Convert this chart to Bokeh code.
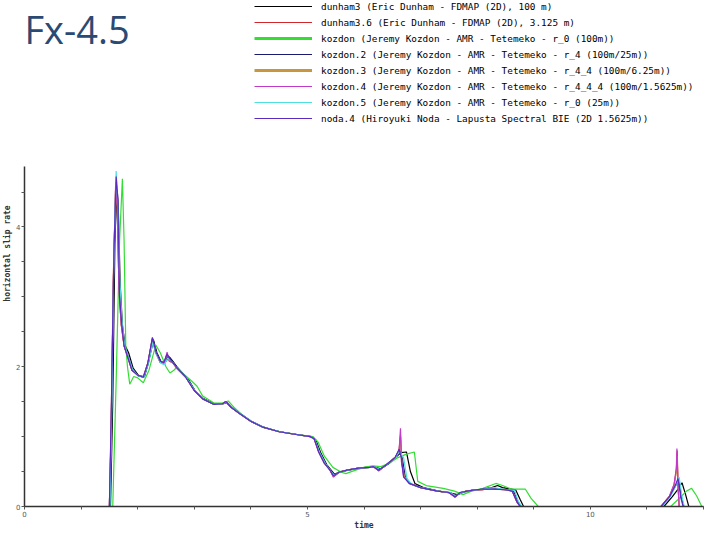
from bokeh.plotting import figure
from bokeh.models import Legend, LegendItem, Label, FixedTicker, ColumnDataSource, CDSView, IndexFilter
from bokeh.embed import file_html
from bokeh.resources import INLINE

# ---------------- data (time, horizontal slip rate) ----------------
labels = [
    "dunham3 (Eric Dunham - FDMAP (2D), 100 m)",
    "dunham3.6 (Eric Dunham - FDMAP (2D), 3.125 m)",
    "kozdon (Jeremy Kozdon - AMR - Tetemeko - r_0 (100m))",
    "kozdon.2 (Jeremy Kozdon - AMR - Tetemeko - r_4 (100m/25m))",
    "kozdon.3 (Jeremy Kozdon - AMR - Tetemeko - r_4_4 (100m/6.25m))",
    "kozdon.4 (Jeremy Kozdon - AMR - Tetemeko - r_4_4_4 (100m/1.5625m))",
    "kozdon.5 (Jeremy Kozdon - AMR - Tetemeko - r_0 (25m))",
    "noda.4 (Hiroyuki Noda - Lapusta Spectral BIE (2D 1.5625m))",
]
colors = ["#000000", "#d02828", "#33dd33", "#1a1a70", "#c8963c", "#c03cc8", "#4ee0e0", "#5b2bc0"]
legend_widths = [1, 1, 3, 1, 3, 1, 1, 1]

dunham3 = [
    (0, 0), (1.52, 0), (1.56, 1.5), (1.60, 3.9), (1.64, 4.53), (1.66, 4.2), (1.69, 3.2),
    (1.73, 2.6), (1.78, 2.3), (1.84, 2.2), (1.92, 1.98), (2.02, 1.87), (2.12, 1.86),
    (2.20, 2.1), (2.28, 2.38), (2.34, 2.2), (2.42, 2.06), (2.50, 2.08), (2.56, 2.14),
    (2.62, 2.08), (2.72, 1.97), (2.88, 1.84), (3.02, 1.65), (3.17, 1.54), (3.35, 1.47),
    (3.52, 1.47), (3.58, 1.49), (3.67, 1.41), (3.82, 1.32), (4.02, 1.21), (4.22, 1.13),
    (4.52, 1.07), (4.82, 1.03), (5.07, 1.00), (5.15, 0.95), (5.24, 0.76), (5.34, 0.60),
    (5.48, 0.46), (5.58, 0.50), (5.72, 0.52), (5.92, 0.55), (6.12, 0.57), (6.20, 0.56),
    (6.30, 0.54), (6.45, 0.62), (6.58, 0.72), (6.65, 0.77), (6.75, 0.78), (6.82, 0.50),
    (6.90, 0.33), (7.05, 0.27), (7.32, 0.22), (7.55, 0.19), (7.65, 0.17), (7.80, 0.22),
    (8.00, 0.24), (8.22, 0.26), (8.36, 0.30), (8.45, 0.27), (8.68, 0.24), (8.76, 0.10),
    (8.82, 0), (11.30, 0), (11.45, 0.14), (11.55, 0.25), (11.62, 0.34), (11.68, 0.18),
    (11.74, 0), (12.0, 0),
]
dunham3_6 = [
    (0, 0), (1.50, 0), (1.53, 1.1), (1.57, 3.3), (1.61, 4.55), (1.64, 4.3), (1.67, 3.1),
    (1.71, 2.6), (1.76, 2.3), (1.82, 2.15), (1.90, 1.95), (2.00, 1.88), (2.10, 1.85),
    (2.18, 2.05), (2.26, 2.40), (2.32, 2.20), (2.40, 2.06), (2.47, 2.05), (2.52, 2.18),
    (2.56, 2.08), (2.62, 2.06), (2.70, 1.97), (2.85, 1.85), (3.00, 1.66), (3.15, 1.54),
    (3.35, 1.46), (3.50, 1.47), (3.55, 1.50), (3.65, 1.42), (3.80, 1.33), (4.00, 1.22),
    (4.20, 1.14), (4.50, 1.07), (4.80, 1.03), (5.05, 1.00), (5.12, 0.97), (5.20, 0.78),
    (5.30, 0.62), (5.40, 0.52), (5.46, 0.43), (5.56, 0.49), (5.70, 0.52), (5.90, 0.55),
    (6.10, 0.56), (6.17, 0.57), (6.26, 0.51), (6.40, 0.60), (6.55, 0.70), (6.62, 0.80),
    (6.645, 1.02), (6.67, 0.62), (6.71, 0.43), (6.80, 0.33), (7.00, 0.27), (7.30, 0.22),
    (7.50, 0.20), (7.61, 0.14), (7.70, 0.20), (7.90, 0.23), (8.10, 0.24), (8.20, 0.26),
    (8.30, 0.25), (8.50, 0.24), (8.62, 0.22), (8.70, 0.07), (8.76, 0), (11.25, 0),
    (11.40, 0.15), (11.48, 0.30), (11.52, 0.52), (11.535, 0.80), (11.55, 0.30),
    (11.57, 0), (12.0, 0),
]
kozdon = [
    (0, 0), (1.56, 0), (1.62, 1.8), (1.68, 3.8), (1.73, 4.69), (1.76, 3.8), (1.79, 2.3),
    (1.82, 2.0), (1.86, 1.75), (1.93, 1.86), (2.00, 1.84), (2.10, 1.77), (2.20, 1.95),
    (2.32, 2.31), (2.40, 2.20), (2.50, 2.00), (2.57, 1.91), (2.64, 1.95), (2.70, 2.00),
    (2.80, 1.90), (2.95, 1.80), (3.05, 1.72), (3.15, 1.58), (3.35, 1.48), (3.50, 1.48),
    (3.60, 1.51), (3.70, 1.42), (3.82, 1.33), (4.02, 1.21), (4.22, 1.13), (4.52, 1.07),
    (4.82, 1.03), (5.10, 1.00), (5.19, 0.92), (5.30, 0.72), (5.45, 0.56), (5.60, 0.49),
    (5.68, 0.47), (5.85, 0.52), (6.00, 0.56), (6.15, 0.58), (6.30, 0.57), (6.45, 0.62),
    (6.60, 0.70), (6.75, 0.75), (6.89, 0.78), (6.95, 0.36), (7.10, 0.30), (7.40, 0.26),
    (7.60, 0.22), (7.75, 0.17), (7.90, 0.22), (8.10, 0.26), (8.33, 0.33), (8.45, 0.30),
    (8.60, 0.25), (8.85, 0.25), (8.95, 0.12), (9.08, 0), (11.42, 0), (11.55, 0.10),
    (11.70, 0.22), (11.79, 0.26), (11.88, 0.15), (11.97, 0), (12.0, 0),
]
kozdon_2 = [
    (0, 0), (1.51, 0), (1.54, 1.2), (1.58, 3.5), (1.62, 4.65), (1.65, 4.35), (1.68, 3.1),
    (1.72, 2.6), (1.77, 2.3), (1.83, 2.15), (1.91, 1.96), (2.01, 1.87), (2.11, 1.85),
    (2.19, 2.05), (2.27, 2.40), (2.33, 2.20), (2.41, 2.06), (2.47, 2.04), (2.53, 2.15),
    (2.60, 2.09), (2.71, 1.97), (2.86, 1.85), (3.01, 1.66), (3.16, 1.54), (3.35, 1.46),
    (3.51, 1.47), (3.57, 1.49), (3.66, 1.42), (3.81, 1.33), (4.01, 1.22), (4.21, 1.14),
    (4.51, 1.07), (4.81, 1.03), (5.06, 1.00), (5.13, 0.96), (5.22, 0.77), (5.32, 0.61),
    (5.47, 0.45), (5.57, 0.49), (5.71, 0.52), (5.91, 0.55), (6.11, 0.56), (6.18, 0.57),
    (6.28, 0.53), (6.42, 0.61), (6.56, 0.71), (6.63, 0.80), (6.68, 0.68), (6.73, 0.42),
    (6.83, 0.32), (7.02, 0.27), (7.31, 0.22), (7.52, 0.20), (7.62, 0.15), (7.72, 0.20),
    (7.92, 0.23), (8.12, 0.25), (8.30, 0.26), (8.50, 0.24), (8.64, 0.23), (8.72, 0.07),
    (8.78, 0), (11.26, 0), (11.41, 0.15), (11.51, 0.30), (11.56, 0.38), (11.61, 0.13),
    (11.65, 0), (12.0, 0),
]
kozdon_3 = [
    (0, 0), (1.50, 0), (1.53, 1.0), (1.57, 3.2), (1.61, 4.55), (1.64, 4.3), (1.67, 3.1),
    (1.71, 2.6), (1.76, 2.3), (1.82, 2.15), (1.90, 1.95), (2.00, 1.88), (2.10, 1.85),
    (2.18, 2.05), (2.26, 2.40), (2.32, 2.21), (2.40, 2.06), (2.47, 2.05), (2.52, 2.19),
    (2.56, 2.08), (2.62, 2.06), (2.70, 1.97), (2.85, 1.85), (3.00, 1.66), (3.15, 1.54),
    (3.35, 1.46), (3.50, 1.47), (3.55, 1.50), (3.65, 1.42), (3.80, 1.33), (4.00, 1.22),
    (4.20, 1.14), (4.50, 1.07), (4.80, 1.03), (5.05, 1.00), (5.12, 0.97), (5.20, 0.78),
    (5.30, 0.62), (5.40, 0.52), (5.46, 0.43), (5.56, 0.49), (5.70, 0.52), (5.90, 0.55),
    (6.10, 0.56), (6.17, 0.57), (6.26, 0.51), (6.40, 0.60), (6.55, 0.70), (6.62, 0.80),
    (6.645, 1.00), (6.67, 0.63), (6.71, 0.43), (6.80, 0.33), (7.00, 0.27), (7.30, 0.22),
    (7.50, 0.20), (7.61, 0.14), (7.70, 0.20), (7.90, 0.23), (8.10, 0.24), (8.20, 0.26),
    (8.30, 0.25), (8.50, 0.24), (8.62, 0.22), (8.70, 0.07), (8.76, 0), (11.25, 0),
    (11.40, 0.15), (11.48, 0.31), (11.52, 0.50), (11.535, 0.72), (11.55, 0.30),
    (11.57, 0), (12.0, 0),
]
kozdon_4 = [
    (0, 0), (1.50, 0), (1.53, 1.0), (1.57, 3.2), (1.61, 4.60), (1.64, 4.3), (1.67, 3.1),
    (1.71, 2.6), (1.76, 2.3), (1.82, 2.15), (1.90, 1.95), (2.00, 1.88), (2.10, 1.85),
    (2.18, 2.05), (2.26, 2.40), (2.32, 2.20), (2.40, 2.06), (2.47, 2.05), (2.52, 2.21),
    (2.56, 2.08), (2.62, 2.06), (2.70, 1.97), (2.85, 1.85), (3.00, 1.66), (3.15, 1.54),
    (3.35, 1.46), (3.50, 1.47), (3.55, 1.50), (3.65, 1.42), (3.80, 1.33), (4.00, 1.22),
    (4.20, 1.14), (4.50, 1.07), (4.80, 1.03), (5.05, 1.00), (5.12, 0.97), (5.20, 0.78),
    (5.30, 0.62), (5.40, 0.52), (5.46, 0.42), (5.56, 0.49), (5.70, 0.52), (5.90, 0.55),
    (6.10, 0.56), (6.17, 0.57), (6.26, 0.51), (6.40, 0.60), (6.55, 0.70), (6.62, 0.80),
    (6.645, 1.12), (6.66, 0.65), (6.70, 0.43), (6.80, 0.33), (7.00, 0.27), (7.30, 0.22),
    (7.50, 0.20), (7.61, 0.13), (7.70, 0.20), (7.90, 0.23), (8.10, 0.24), (8.20, 0.27),
    (8.30, 0.25), (8.50, 0.24), (8.62, 0.22), (8.70, 0.07), (8.76, 0), (11.25, 0),
    (11.40, 0.15), (11.48, 0.32), (11.52, 0.55), (11.53, 0.83), (11.55, 0.30),
    (11.57, 0), (12.0, 0),
]
kozdon_5 = [
    (0, 0), (1.51, 0), (1.54, 1.3), (1.58, 3.6), (1.62, 4.80), (1.65, 4.3), (1.68, 3.3),
    (1.72, 2.7), (1.77, 2.3), (1.83, 2.15), (1.91, 1.96), (2.01, 1.87), (2.11, 1.85),
    (2.19, 2.05), (2.27, 2.35), (2.33, 2.18), (2.41, 2.05), (2.47, 2.03), (2.53, 2.12),
    (2.60, 2.08), (2.71, 1.97), (2.86, 1.85), (3.01, 1.66), (3.16, 1.54), (3.35, 1.46),
    (3.51, 1.47), (3.57, 1.49), (3.66, 1.42), (3.81, 1.33), (4.01, 1.22), (4.21, 1.14),
    (4.51, 1.07), (4.81, 1.03), (5.06, 1.00), (5.13, 0.96), (5.22, 0.77), (5.32, 0.61),
    (5.47, 0.45), (5.57, 0.49), (5.71, 0.52), (5.91, 0.55), (6.11, 0.56), (6.18, 0.57),
    (6.28, 0.53), (6.42, 0.61), (6.56, 0.71), (6.63, 0.78), (6.70, 0.70), (6.76, 0.40),
    (6.85, 0.31), (7.02, 0.27), (7.31, 0.22), (7.52, 0.20), (7.62, 0.15), (7.72, 0.20),
    (7.92, 0.23), (8.12, 0.25), (8.30, 0.27), (8.50, 0.24), (8.66, 0.23), (8.73, 0.07),
    (8.79, 0), (11.27, 0), (11.42, 0.15), (11.52, 0.32), (11.57, 0.42), (11.62, 0.14),
    (11.66, 0), (12.0, 0),
]
noda_4 = [
    (0, 0), (1.50, 0), (1.53, 1.2), (1.58, 3.6), (1.62, 4.72), (1.65, 4.4), (1.68, 3.0),
    (1.72, 2.6), (1.76, 2.3), (1.82, 2.15), (1.90, 1.95), (2.00, 1.88), (2.10, 1.85),
    (2.18, 2.05), (2.26, 2.42), (2.32, 2.22), (2.40, 2.08), (2.46, 2.06), (2.52, 2.18),
    (2.58, 2.10), (2.70, 1.98), (2.85, 1.85), (3.00, 1.66), (3.15, 1.54), (3.35, 1.46),
    (3.50, 1.47), (3.56, 1.50), (3.65, 1.42), (3.80, 1.33), (4.00, 1.22), (4.20, 1.14),
    (4.50, 1.07), (4.80, 1.03), (5.05, 1.00), (5.12, 0.97), (5.20, 0.78), (5.30, 0.62),
    (5.40, 0.52), (5.46, 0.44), (5.56, 0.49), (5.70, 0.52), (5.90, 0.55), (6.10, 0.56),
    (6.17, 0.57), (6.26, 0.52), (6.40, 0.60), (6.55, 0.70), (6.62, 0.82), (6.66, 0.70),
    (6.70, 0.42), (6.80, 0.33), (7.00, 0.27), (7.30, 0.22), (7.50, 0.20), (7.61, 0.14),
    (7.70, 0.20), (7.90, 0.23), (8.10, 0.25), (8.30, 0.25), (8.50, 0.24), (8.62, 0.22),
    (8.70, 0.07), (8.76, 0), (11.25, 0), (11.40, 0.14), (11.50, 0.30), (11.55, 0.40),
    (11.60, 0.12), (11.64, 0), (12.0, 0),
]
series = [dunham3, dunham3_6, kozdon, kozdon_2, kozdon_3, kozdon_4, kozdon_5, noda_4]

x_major = [0, 5, 10]
x_minor = [1, 2, 3, 4, 6, 7, 8, 9, 11, 12]
y_major = [0, 2, 4]
y_minor = [0.5, 1, 1.5, 2.5, 3, 3.5, 4.5]
y_top = 4.86

# ---------------- layout ----------------
W, H = 704, 532
B_BOTTOM = 24          # space below the frame for tick labels and "time"
AXIS_TOP = 167         # pixel row (from top of figure) where the y axis ends
frame_h = H - B_BOTTOM
y_end = y_top * frame_h / (frame_h - AXIS_TOP)   # frame spans the whole height; axis stops at y_top

p = figure(width=W, height=H, x_range=(0, 12), y_range=(0, y_end),
           output_backend="svg", toolbar_location=None,
           min_border_left=17, min_border_right=1, min_border_top=0,
           min_border_bottom=B_BOTTOM)
p.outline_line_color = None
p.xgrid.visible = False
p.ygrid.visible = False
p.background_fill_color = "white"
p.border_fill_color = "white"

renderers = []
for data, c in zip(series, colors):
    src = ColumnDataSource(dict(x=[d[0] for d in data], y=[d[1] for d in data]))
    r = p.line("x", "y", source=src, line_color=c, line_width=1.2)
    renderers.append((src, r))

items = []
for (src, r), lab, c, w in zip(renderers, labels, colors, legend_widths):
    if w > 1:
        # legend sample drawn thicker than the plotted curve (a single-point view draws no line)
        proxy = p.line("x", "y", source=src, view=CDSView(filter=IndexFilter([0])),
                       line_color=c, line_width=w)
        items.append(LegendItem(label=lab, renderers=[proxy]))
    else:
        items.append(LegendItem(label=lab, renderers=[r]))

ROW = 16
legend_h = ROW * len(labels)
legend = Legend(items=items, location=(230, frame_h - legend_h), orientation="vertical",
                glyph_width=58, glyph_height=ROW, label_height=ROW, label_standoff=9,
                spacing=0, padding=0, margin=0,
                label_text_font="DejaVu Sans Mono", label_text_font_size="9.4px",
                label_text_color="#000000",
                border_line_color=None, background_fill_alpha=0)
p.add_layout(legend, "center")

for ax in (p.xaxis[0], p.yaxis[0]):
    ax.axis_line_color = "#333333"
    ax.axis_line_width = 1.5
    ax.major_tick_line_color = "#555555"
    ax.minor_tick_line_color = "#555555"
    ax.major_tick_out = 3
    ax.major_tick_in = 0
    ax.minor_tick_out = 3
    ax.minor_tick_in = 0
    ax.major_label_text_font = "DejaVu Sans"
    ax.major_label_text_font_size = "7px"
    ax.major_label_text_color = "#555555"
    ax.major_label_standoff = 1
    ax.axis_label_text_font = "DejaVu Sans Mono"
    ax.axis_label_text_font_size = "8px"
    ax.axis_label_text_font_style = "bold"
    ax.axis_label_text_color = "#333333"
    ax.axis_label_standoff = 1

p.xaxis[0].ticker = FixedTicker(ticks=x_major, minor_ticks=x_minor)
p.yaxis[0].ticker = FixedTicker(ticks=y_major, minor_ticks=y_minor)
p.yaxis[0].bounds = (0, y_top)
p.xaxis[0].axis_label = "time"
p.yaxis[0].axis_label = "horizontal slip rate"
p.yaxis[0].major_label_orientation = "horizontal"

title = Label(x=0, y=frame_h - 30, x_units="screen", y_units="screen", text="Fx-4.5",
              text_font="Open Sans", text_font_size="38px", text_color="#2b4a73",
              text_baseline="alphabetic")
p.add_layout(title)

open("out.html", "w").write(file_html(p, INLINE))
